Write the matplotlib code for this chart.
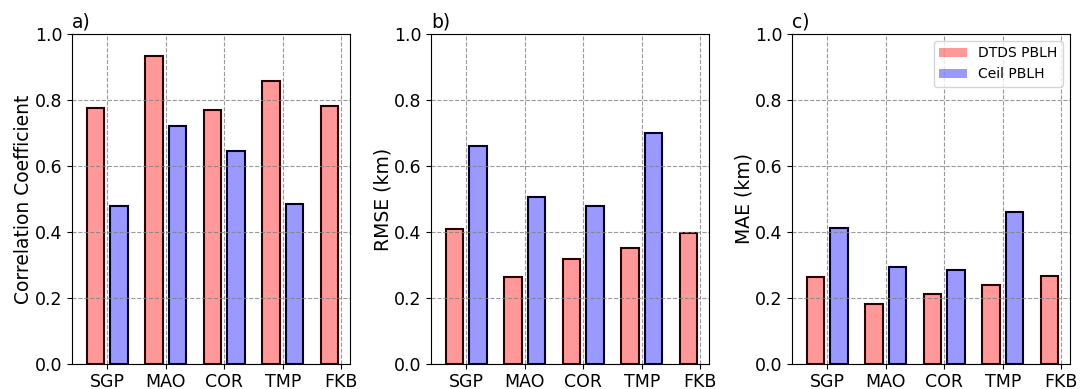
import numpy as np
import matplotlib
matplotlib.use('Agg')
import matplotlib.pyplot as plt
from matplotlib.patches import Patch

sites = ['SGP', 'MAO', 'COR', 'TMP', 'FKB']

# DTDS PBLH vs Ceil PBLH (no ceilometer at FKB)
corr_dtds = [0.775, 0.934, 0.771, 0.858, 0.782]
corr_ceil = [0.478, 0.720, 0.644, 0.485, np.nan]
rmse_dtds = [0.410, 0.265, 0.317, 0.351, 0.396]
rmse_ceil = [0.662, 0.505, 0.480, 0.701, np.nan]
mae_dtds = [0.264, 0.182, 0.213, 0.240, 0.268]
mae_ceil = [0.412, 0.295, 0.285, 0.462, np.nan]

panels = [
    ('a)', 'Correlation Coefficient', corr_dtds, corr_ceil),
    ('b)', 'RMSE (km)', rmse_dtds, rmse_ceil),
    ('c)', 'MAE (km)', mae_dtds, mae_ceil),
]

red = (1, 0, 0, 0.4)
blue = (0, 0, 1, 0.4)

fig = plt.figure(figsize=(10.89, 3.89), dpi=100)
lefts = [0.0661, 0.3958, 0.7273]
x = np.arange(len(sites))
w = 0.3

for left, (tag, ylab, d1, d2) in zip(lefts, panels):
    ax = fig.add_axes([left, 0.0643, 0.2553, 0.8483])
    ax.bar(x - 0.2, d1, w, color=red, edgecolor='#2a0000', linewidth=1.5)
    ax.bar(x + 0.2, d2, w, color=blue, edgecolor='#00002a', linewidth=1.5)
    ax.set_xticks(x)
    ax.set_xticklabels(sites)
    ax.set_xlim(-0.6, 4.15)
    ax.set_ylim(0, 1.0)
    ax.set_yticks(np.arange(0, 1.01, 0.2))
    ax.tick_params(labelsize=12.5)
    ax.tick_params(axis='x', pad=3)
    ax.set_ylabel(ylab, fontsize=13.5, labelpad=1)
    ax.grid(True, linestyle='--', color='gray', alpha=0.8)
    ax.set_title(tag, loc='left', fontsize=13.5, pad=5)
    if tag == 'c)':
        handles = [Patch(facecolor=red, label='DTDS PBLH'),
                   Patch(facecolor=blue, label='Ceil PBLH')]
        ax.legend(handles=handles, loc='upper right', fontsize=10)

fig.savefig('out.png', dpi=100)
